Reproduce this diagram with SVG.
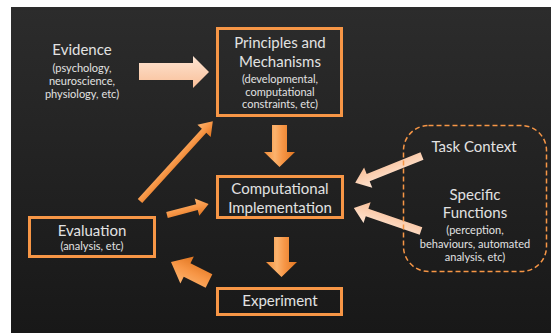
<svg xmlns="http://www.w3.org/2000/svg" width="551" height="333" viewBox="0 0 551 333">
<defs>
<linearGradient id="bg" x1="0" y1="0" x2="0" y2="1">
<stop offset="0" stop-color="#2c2c2c"/>
<stop offset="1" stop-color="#181818"/>
</linearGradient>
<linearGradient id="orV" x1="0" y1="0" x2="1" y2="0">
<stop offset="0" stop-color="#f28a35"/>
<stop offset="0.35" stop-color="#fbb36e"/>
<stop offset="0.6" stop-color="#f79646"/>
<stop offset="1" stop-color="#e07520"/>
</linearGradient>
<linearGradient id="orL" x1="0" y1="0" x2="0" y2="1">
<stop offset="0" stop-color="#fbb36e"/>
<stop offset="0.5" stop-color="#f79646"/>
<stop offset="1" stop-color="#e07520"/>
</linearGradient>
<linearGradient id="peach" x1="0" y1="0" x2="0" y2="1">
<stop offset="0" stop-color="#fde4d2"/>
<stop offset="1" stop-color="#f9bf98"/>
</linearGradient>
<style>
.box{fill:none;stroke:#f79646;stroke-width:3}
.dash{fill:none;stroke:#f79646;stroke-width:1.5;stroke-dasharray:5 3}
text{font-family:Lato,"Open Sans","Liberation Sans",sans-serif;fill:#e2e2e2;text-anchor:middle}
.big{font-size:15px}
.sm{font-size:11px}
</style>
</defs>
<rect x="0" y="0" width="551" height="333" fill="#ffffff"/>
<rect x="11" y="7" width="540" height="326" fill="url(#bg)"/>

<g id="connectors">
<polygon id="evidence-arrow" fill="url(#peach)" points="139,63 193,63 193,56 209,72 193,88 193,80 139,80"/>
<polygon id="principles-to-computational" fill="url(#orV)" points="272,125 287,125 287,152 295,152 279.5,167 264,152 272,152"/>
<polygon id="computational-to-experiment" fill="url(#orV)" points="274,237 289,237 289,262 297,262 281.5,277 266,262 274,262"/>
<g transform="translate(209,281) rotate(206.6)">
<polygon id="experiment-to-evaluation" fill="url(#orL)" points="0,-7.5 24.5,-7.5 24.5,-15 42.5,0 24.5,15 24.5,7.5 0,7.5"/>
</g>
<g transform="translate(140,201) rotate(-47.6)">
<polygon id="evaluation-to-principles" fill="url(#orL)" points="0,-3 95,-3 95,-9 108,0 95,9 95,3 0,3"/>
</g>
<g transform="translate(167,215) rotate(-14.7)">
<polygon id="evaluation-to-computational" fill="url(#orL)" points="0,-3 31,-3 31,-9 43,0 31,9 31,3 0,3"/>
</g>
<g transform="translate(422,156) rotate(158.1)">
<polygon id="task-to-computational" fill="url(#peach)" points="0,-4 58,-4 58,-11 72,0 58,11 58,4 0,4"/>
</g>
<g transform="translate(421,231) rotate(198.9)">
<polygon id="functions-to-computational" fill="url(#peach)" points="0,-4 57,-4 57,-11 71,0 57,11 57,4 0,4"/>
</g>
</g>

<g id="evidence">
<text class="big" x="82" y="55">Evidence</text>
<text class="sm" x="82" y="72">(psychology,</text>
<text class="sm" x="82" y="85">neuroscience,</text>
<text class="sm" x="82" y="98">physiology, etc)</text>
</g>

<g id="principles">
<rect class="box" x="217.5" y="28.5" width="124" height="87"/>
<text class="big" x="280" y="48">Principles and</text>
<text class="big" x="280" y="67">Mechanisms</text>
<text class="sm" x="280" y="83">(developmental,</text>
<text class="sm" x="280" y="96">computational</text>
<text class="sm" x="280" y="108">constraints, etc)</text>
</g>

<g id="computational">
<rect class="box" x="217.5" y="176.5" width="125" height="41"/>
<text class="big" x="280" y="194">Computational</text>
<text class="big" x="280" y="213">Implementation</text>
</g>

<g id="experiment">
<rect class="box" x="217.5" y="288.5" width="124" height="26"/>
<text class="big" x="280" y="306">Experiment</text>
</g>

<g id="evaluation">
<rect class="box" x="29.5" y="217.5" width="125" height="39"/>
<text class="big" x="92" y="236">Evaluation</text>
<text class="sm" x="92" y="250">(analysis, etc)</text>
</g>

<g id="context">
<rect class="dash" x="403.5" y="125.5" width="143" height="146" rx="25" ry="25"/>
<text class="big" x="474" y="152">Task Context</text>
<text class="big" x="475" y="200">Specific</text>
<text class="big" x="475" y="218">Functions</text>
<text class="sm" x="475" y="234">(perception,</text>
<text class="sm" x="475" y="248">behaviours, automated</text>
<text class="sm" x="475" y="261">analysis, etc)</text>
</g>
</svg>
